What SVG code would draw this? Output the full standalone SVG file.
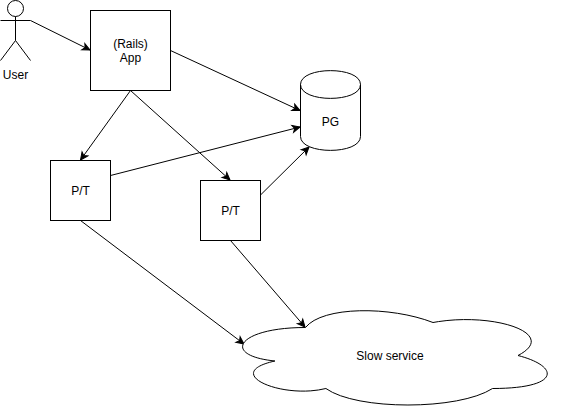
<svg xmlns="http://www.w3.org/2000/svg" width="561" height="411" viewBox="0 0 561 411">
<style>
.s{fill:#fff;stroke:#000;stroke-width:1}
.n{fill:none;stroke:#000;stroke-width:1}
text{font-family:"Liberation Sans",Arial,sans-serif;font-size:12px;fill:#000;text-anchor:middle}
</style>
<defs>
<marker id="a" markerUnits="userSpaceOnUse" markerWidth="12" markerHeight="12" refX="9" refY="5" viewBox="0 0 12 10" orient="auto" overflow="visible">
<path d="M1.5,1.5 L9,5 L1.5,8.5 L3.5,5 Z" fill="#000" stroke="#000" stroke-width="1"/>
</marker>
</defs>
<rect width="561" height="411" fill="#fff"/>
<g id="connectors">
<path class="n" d="M30.5,20.5 L90,50" marker-end="url(#a)"/>
<path class="n" d="M170.5,50.5 L300,110.5" marker-end="url(#a)"/>
<path class="n" d="M130.5,90.5 L80.5,160" marker-end="url(#a)"/>
<path class="n" d="M130.5,90.5 L230,180" marker-end="url(#a)"/>
<path class="n" d="M110.5,175.5 L300,127" marker-end="url(#a)"/>
<path class="n" d="M260.5,195 L309,147" marker-end="url(#a)"/>
<path class="n" d="M80.5,220.5 L244,344" marker-end="url(#a)"/>
<path class="n" d="M230.5,240.5 L305,327" marker-end="url(#a)"/>
</g>
<g id="user">
<circle class="n" cx="15.5" cy="8.5" r="8"/>
<path class="n" d="M15.5,16.5 V40.5 M0.5,20.5 H30.5 M0.5,60.5 L15.5,40.5 L30.5,60.5"/>
<text x="15.5" y="79">User</text>
</g>
<g id="app">
<rect class="s" x="90.5" y="10.5" width="80" height="80"/>
<text x="130.5" y="48">(Rails)</text>
<text x="130.5" y="62">App</text>
</g>
<g id="pg">
<path class="s" d="M300.5,84.5 C300.5,66 360.5,66 360.5,84.5 V136.5 C360.5,155 300.5,155 300.5,136.5 Z"/>
<path class="n" d="M300.5,84.5 C300.5,103 360.5,103 360.5,84.5"/>
<text x="330.5" y="126">PG</text>
</g>
<g id="pt1">
<rect class="s" x="50.5" y="160.5" width="60" height="60"/>
<text x="80.5" y="195">P/T</text>
</g>
<g id="pt2">
<rect class="s" x="200.5" y="180.5" width="60" height="60"/>
<text x="230.5" y="215">P/T</text>
</g>
<g id="slow">
<path class="s" d="M305.5,327.5 C237.5,327.5 220.5,355.5 274.9,361 C220.5,373.1 281.7,399.5 325.9,388.5 C356.5,410.5 458.5,410.5 492.5,388.5 C560.5,388.5 560.5,366.5 518,355.5 C560.5,333.5 492.5,311.5 433,322.5 C390.5,306 322.5,306 305.5,327.5 Z"/>
<text x="390" y="360">Slow service</text>
</g>
</svg>
